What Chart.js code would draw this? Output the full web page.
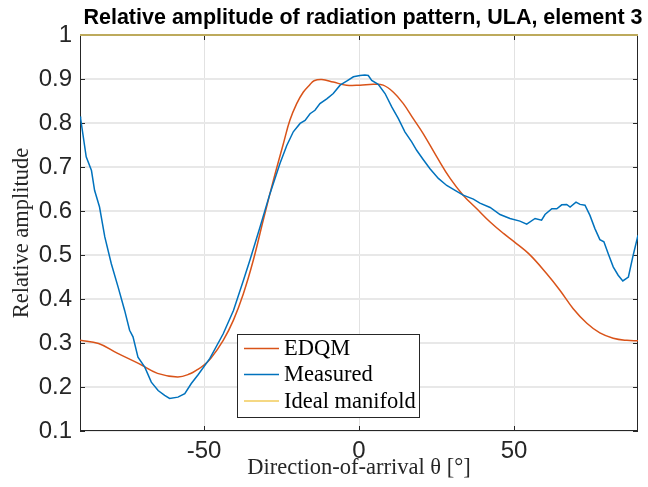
<!DOCTYPE html>
<html>
<head>
<meta charset="utf-8">
<script src="https://cdn.jsdelivr.net/npm/chart.js@4.4.0/dist/chart.umd.min.js"></script>
<style>
  html, body { margin: 0; padding: 0; background: #fff; }
</style>
</head>
<body>
<canvas id="myChart" width="648" height="487"></canvas>
<script>
// EDQM model curve (deg, relative amplitude)
const edqmAngle = [-90, -84, -78, -71, -65, -58.5, -54.5, -52, -50, -47.8, -43.8, -40.5, -37.3, -34.1, -30.9, -27.6,
  -24.4, -22.3, -20.1, -18, -16, -14.5, -12, -8.3, -4, 0.3, 4.6, 7.8, 11.1, 14.3, 17.5, 20.7, 25.1, 29.4, 33.6,
  38, 42.3, 46.6, 50.1, 54.9, 60.5, 64.8, 69.1, 73.5, 77.7, 82, 86.4, 90];
const edqmValue = [0.306, 0.299, 0.277, 0.253, 0.231, 0.223, 0.23, 0.24, 0.25, 0.265, 0.306, 0.352, 0.412, 0.488, 0.579, 0.67,
  0.753, 0.806, 0.844, 0.87, 0.886, 0.896, 0.899, 0.893, 0.886, 0.886, 0.888, 0.886, 0.87, 0.844, 0.81, 0.776, 0.723, 0.674, 0.636,
  0.605, 0.575, 0.549, 0.53, 0.502, 0.458, 0.42, 0.378, 0.345, 0.323, 0.311, 0.306, 0.305];

// measured pattern
const measAngle = [-90, -89.8, -88, -86.3, -85.3, -83.7, -82, -79.9, -77.7, -75.6, -74, -72.9, -71.3, -69.1, -67, -64.8,
  -62.7, -61.1, -58.4, -56.2, -54.1, -51.9, -48.1, -43.8, -40.5, -37.3, -35.2, -31.9, -28.7, -25.5, -23.3, -21.2, -19,
  -17.4, -15.8, -14.2, -12.6, -10.4, -8.3, -6.1, -4, -1.8, 0.3, 1.9, 3, 4.1, 6.2, 8.4, 10.6, 12.7, 14.8, 17, 18.6, 20.7,
  22.9, 25.6, 28.3, 31, 33.6, 36.9, 39, 42.3, 45.5, 48.7, 51.9, 54.1, 56.8, 58.9, 60, 62.2, 63.8, 65.4, 67, 68.1, 70,
  71.3, 72.9, 74.5, 76.1, 77.7, 79, 80.4, 82, 83.6, 85.1, 86.9, 88.3, 90];
const measValue = [0.815, 0.81, 0.723, 0.692, 0.647, 0.609, 0.541, 0.48, 0.427, 0.374, 0.329, 0.314, 0.268, 0.245, 0.211, 0.192,
  0.181, 0.174, 0.177, 0.185, 0.208, 0.228, 0.265, 0.321, 0.374, 0.442, 0.488, 0.564, 0.64, 0.708, 0.749, 0.78, 0.799,
  0.806, 0.821, 0.829, 0.844, 0.855, 0.867, 0.886, 0.895, 0.905, 0.908, 0.909, 0.908, 0.897, 0.888, 0.867, 0.836, 0.81, 0.78, 0.757, 0.738, 0.717,
  0.696, 0.674, 0.658, 0.647, 0.636, 0.627, 0.618, 0.608, 0.592, 0.583, 0.577, 0.57, 0.583, 0.579, 0.592, 0.605, 0.605, 0.614, 0.615, 0.609, 0.62,
  0.615, 0.613, 0.59, 0.56, 0.535, 0.53, 0.503, 0.473, 0.454, 0.441, 0.45, 0.495, 0.545];

// ideal manifold is flat
const idealAngle = [-90, 90];
const idealValue = [1, 1];

const xTicks = [-50, 0, 50];
const yTicks = [0.1, 0.2, 0.3, 0.4, 0.5, 0.6, 0.7, 0.8, 0.9, 1];
const yTickLabels = ["0.1", "0.2", "0.3", "0.4", "0.5", "0.6", "0.7", "0.8", "0.9", "1"];

const titleText = "Relative amplitude of radiation pattern, ULA, element 3";
const axisColor = "#262626";

function toPoints(xs, ys) {
  return xs.map((x, i) => ({ x: x, y: ys[i] }));
}

// box + inward ticks like matlab axes
const framePlugin = {
  id: "frame",
  beforeDatasetsDraw(chart) {
    const ctx = chart.ctx;
    const ca = chart.chartArea;
    const xs = chart.scales.x;
    const ys = chart.scales.y;
    ctx.save();
    ctx.strokeStyle = axisColor;
    ctx.lineWidth = 1;
    ctx.strokeRect(ca.left + 0.5, ca.top + 0.5, ca.right - ca.left - 1, ca.bottom - ca.top - 1);
    ctx.beginPath();
    xTicks.forEach((v) => {
      const px = Math.round(xs.getPixelForValue(v)) + 0.5;
      ctx.moveTo(px, ca.bottom);
      ctx.lineTo(px, ca.bottom - 5);
      ctx.moveTo(px, ca.top);
      ctx.lineTo(px, ca.top + 5);
    });
    yTicks.forEach((v) => {
      const py = Math.round(ys.getPixelForValue(v)) + 0.5;
      ctx.moveTo(ca.left, py);
      ctx.lineTo(ca.left + 5, py);
      ctx.moveTo(ca.right, py);
      ctx.lineTo(ca.right - 5, py);
    });
    ctx.stroke();
    ctx.restore();
  },
  afterDraw(chart) {
    const ctx = chart.ctx;
    const ca = chart.chartArea;
    ctx.save();
    // title
    ctx.fillStyle = "#000";
    ctx.font = "bold 21.5px 'Liberation Sans', Arial, sans-serif";
    ctx.textAlign = "center";
    ctx.textBaseline = "alphabetic";
    ctx.fillText(titleText, (ca.left + ca.right) / 2 + 4, 24);

    // legend box
    const bx = ca.left + 157;
    const by = ca.bottom - 97;
    const bw = 182;
    const bh = 83;
    ctx.fillStyle = "#fff";
    ctx.fillRect(bx, by, bw, bh);
    ctx.strokeStyle = axisColor;
    ctx.lineWidth = 1;
    ctx.strokeRect(bx + 0.5, by + 0.5, bw, bh);
    const rows = [14.5, 40.5, 67];
    const legendColors = ["#D95319", "#0072BD", "#F2CB5A"];
    ctx.font = "22.5px 'Liberation Serif', 'Times New Roman', serif";
    ctx.textAlign = "left";
    ctx.textBaseline = "middle";
    chart.data.datasets.forEach((ds, i) => {
      const ry = by + rows[i];
      ctx.strokeStyle = legendColors[i];
      ctx.lineWidth = 1.5;
      ctx.beginPath();
      ctx.moveTo(bx + 7, ry);
      ctx.lineTo(bx + 42, ry);
      ctx.stroke();
      ctx.fillStyle = "#000";
      ctx.fillText(ds.label, bx + 47, ry + 1);
    });
    ctx.restore();
  },
};

const ctx = document.getElementById("myChart");
new Chart(ctx, {
  type: "line",
  data: {
    datasets: [
      {
        label: "EDQM",
        data: toPoints(edqmAngle, edqmValue),
        borderColor: "#D95319",
        borderWidth: 1.5,
        pointRadius: 0,
        tension: 0.4,
        order: 3,
      },
      {
        label: "Measured",
        data: toPoints(measAngle, measValue),
        borderColor: "#0072BD",
        borderWidth: 1.5,
        pointRadius: 0,
        tension: 0,
        order: 2,
      },
      {
        // sits on the top axis line, so it reads olive
        label: "Ideal manifold",
        data: toPoints(idealAngle, idealValue),
        borderColor: "#BDAA5C",
        borderWidth: 2,
        pointRadius: 0,
        clip: false,
        order: 1,
      },
    ],
  },
  options: {
    responsive: false,
    animation: false,
    devicePixelRatio: 1,
    layout: { padding: { top: 35, right: 10, left: 0, bottom: 0 } },
    plugins: {
      legend: { display: false },
      title: { display: false },
      tooltip: { enabled: false },
    },
    scales: {
      x: {
        type: "linear",
        min: -90,
        max: 90,
        afterBuildTicks: (s) => {
          s.ticks = xTicks.map((v) => ({ value: v }));
        },
        afterFit: (s) => {
          s.height = 56;
        },
        ticks: {
          color: axisColor,
          font: { family: "'Liberation Sans', Arial, sans-serif", size: 24 },
          padding: 6,
          maxRotation: 0,
        },
        grid: { color: "#e2e2e2", lineWidth: 1, drawTicks: false },
        border: { display: false },
        title: {
          display: true,
          text: "Direction-of-arrival θ [°]",
          color: axisColor,
          font: { family: "'Liberation Serif', 'Times New Roman', serif", size: 22.5 },
          padding: { top: 0, bottom: 5 },
        },
      },
      y: {
        min: 0.1,
        max: 1,
        afterBuildTicks: (s) => {
          s.ticks = yTicks.map((v) => ({ value: v }));
        },
        afterFit: (s) => {
          s.width = 80;
        },
        ticks: {
          color: axisColor,
          font: { family: "'Liberation Sans', Arial, sans-serif", size: 24 },
          padding: 8,
          callback: (v, i) => yTickLabels[i],
        },
        grid: { color: "#e8e8e8", lineWidth: 2, drawTicks: false },
        border: { display: false },
        title: {
          display: true,
          text: "Relative amplitude",
          color: axisColor,
          font: { family: "'Liberation Serif', 'Times New Roman', serif", size: 22.5 },
          padding: { top: 9, bottom: 0 },
        },
      },
    },
  },
  plugins: [framePlugin],
});
</script>
</body>
</html>
